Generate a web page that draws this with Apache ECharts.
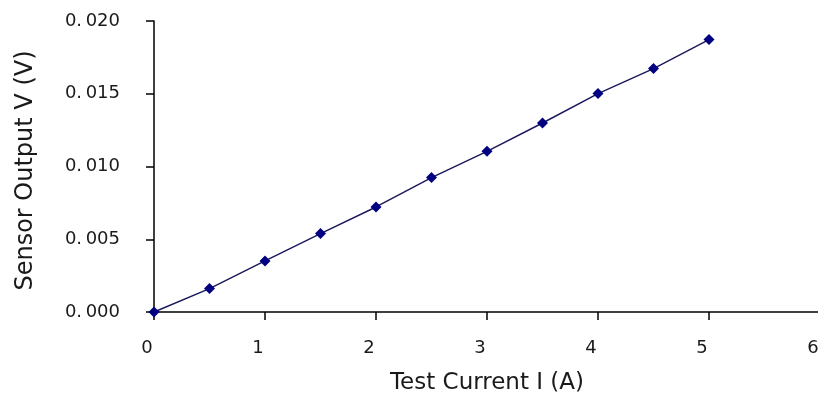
<!DOCTYPE html>
<html>
<head>
<meta charset="utf-8">
<script src="https://cdn.jsdelivr.net/npm/echarts@6/dist/echarts.min.js"></script>
<style>html,body{margin:0;padding:0;background:#fff;}#c{width:818px;height:400px;}</style>
</head>
<body>
<div id="c"></div>
<script>
const currents = [0, 0.5, 1, 1.5, 2, 2.5, 3, 3.5, 4, 4.5, 5];
const voltages = [0, 0.00161, 0.00351, 0.00539, 0.00722, 0.00924, 0.01104, 0.01299, 0.01501, 0.01673, 0.01872];
const xTitle = 'Test Current I (A)';
const yTitle = 'Sensor Output V (V)';

const chart = echarts.init(document.getElementById('c'), null, {renderer: 'canvas'});
const font = 'DejaVu Sans';
chart.setOption({
  animation: false,
  backgroundColor: '#fff',
  grid: {left: 154, top: 21, width: 666, bottom: 88, containLabel: false, outerBoundsMode: 'none'},
  xAxis: {
    type: 'value', min: 0, max: 6, interval: 1,
    name: xTitle, nameLocation: 'middle', nameGap: 60,
    nameTextStyle: {fontFamily: font, fontSize: 23, color: '#1a1a1a'},
    axisLine: {lineStyle: {color: '#000', width: 1.5}},
    axisTick: {inside: false, length: 8, lineStyle: {color: '#000', width: 1.5}},
    axisLabel: {margin: 27, fontFamily: font, fontSize: 18, color: '#1a1a1a', padding: [0, 14, 0, 0]},
    splitLine: {show: false}
  },
  yAxis: {
    type: 'value', min: 0, max: 0.02, interval: 0.005,
    name: yTitle, nameLocation: 'middle', nameGap: 116,
    nameTextStyle: {fontFamily: font, fontSize: 24, color: '#1a1a1a', padding: [0, 8, 0, 0]},
    axisLine: {lineStyle: {color: '#000', width: 1.5}},
    axisTick: {inside: false, length: 8, lineStyle: {color: '#000', width: 1.5}},
    axisLabel: {margin: 34, fontFamily: font, fontSize: 18, color: '#1a1a1a',
      formatter: v => v.toFixed(3).replace('.', '.\u2009')},
    splitLine: {show: false}
  },
  series: [{
    type: 'line',
    data: currents.map((c, i) => [c, voltages[i]]),
    symbol: 'diamond', symbolSize: 11,
    itemStyle: {color: '#000080'},
    lineStyle: {color: '#1a1a5e', width: 1.5}
  }]
});
</script>
</body>
</html>
